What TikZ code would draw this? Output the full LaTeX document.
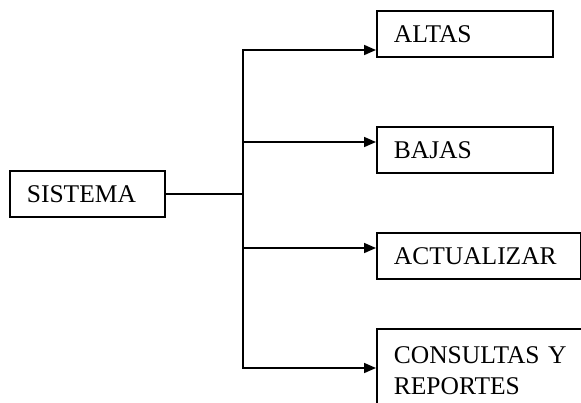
\documentclass[tikz,border=0pt]{standalone}
\usepackage{fontspec}
\setmainfont{Liberation Serif}
\usetikzlibrary{arrows.meta}
\tikzset{
  caja/.style={draw, rectangle, line width=1.7pt, anchor=north west, inner xsep=17pt, inner ysep=0pt,
    minimum height=46pt, align=left, font=\fontsize{25.5}{31}\selectfont},
  linea/.style={line width=1.7pt},
  flecha/.style={line width=1.7pt, -{Triangle[length=12pt,width=10pt]}}
}
\begin{document}
\begin{tikzpicture}[x=1pt,y=-1pt]
\useasboundingbox (0,0) rectangle (581,402);

% cajas
\node[caja, text width=121pt] (sistema) at (9,170) {SISTEMA};
\node[caja, text width=142pt] (altas) at (376,10) {ALTAS};
\node[caja, text width=142pt] (bajas) at (376,126) {BAJAS};
\node[caja, text width=170pt] (actualizar) at (376,232) {ACTUALIZAR};
\node[caja, text width=196pt, minimum height=84pt] (consultas) at (376,328) {CONSULTAS Y\\REPORTES};

% tronco
\coordinate (ta) at (243,50);
\coordinate (tb) at (243,142);
\coordinate (tc) at (243,248);
\coordinate (td) at (243,368);
\draw[linea, line cap=rect] (ta) -- (td);
\draw[linea] (sistema.east) -- (sistema.east -| ta);

\draw[flecha] (ta) -- (ta -| altas.west);
\draw[flecha] (tb) -- (tb -| bajas.west);
\draw[flecha] (tc) -- (tc -| actualizar.west);
\draw[flecha] (td) -- (td -| consultas.west);
\end{tikzpicture}
\end{document}
